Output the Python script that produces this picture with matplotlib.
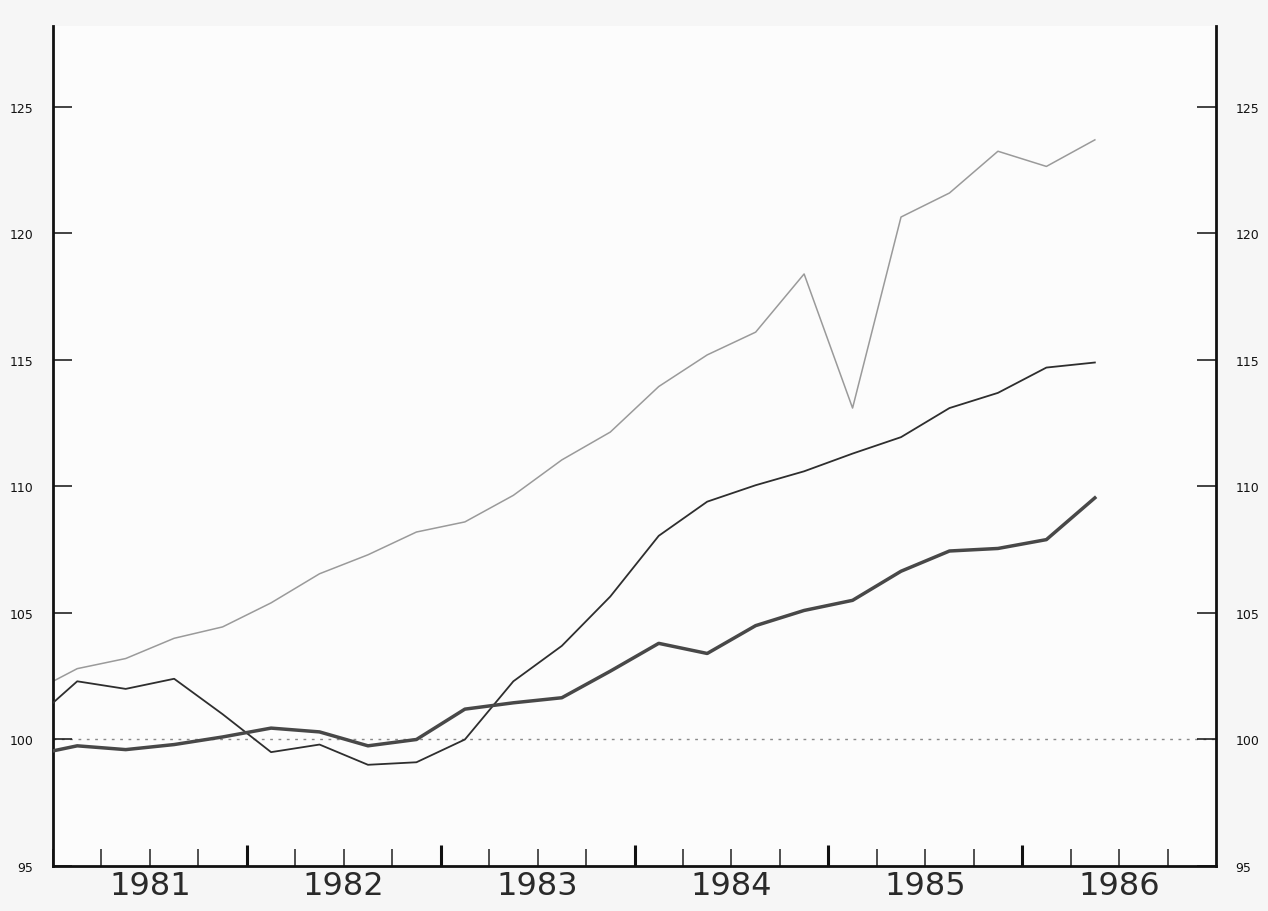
# Index chart 1981-1986, three quarterly series against a base of 100

import numpy as np
import matplotlib.pyplot as plt
from matplotlib.transforms import blended_transform_factory

# quarterly data, 1980Q4 .. 1986Q2 (plotted at quarter midpoints)
years = [1980] + [y for y in range(1981, 1986) for _ in range(4)] + [1986, 1986]
quarters = [4] + [1, 2, 3, 4] * 5 + [1, 2]

series_light = [101.8,
                102.8, 103.2, 104.0, 104.45,
                105.4, 106.55, 107.3, 108.2,
                108.6, 109.65, 111.05, 112.15,
                113.95, 115.2, 116.1, 118.4,
                113.1, 120.65, 121.6, 123.25,
                122.65, 123.7]

series_dark = [100.6,
               102.3, 102.0, 102.4, 101.0,
               99.5, 99.8, 99.0, 99.1,
               100.0, 102.3, 103.7, 105.65,
               108.05, 109.4, 110.05, 110.6,
               111.3, 111.95, 113.1, 113.7,
               114.7, 114.9]

series_thick = [99.35,
                99.75, 99.6, 99.8, 100.1,
                100.45, 100.3, 99.75, 100.0,
                101.2, 101.45, 101.65, 102.7,
                103.8, 103.4, 104.5, 105.1,
                105.5, 106.65, 107.45, 107.55,
                107.9, 109.55]

year_labels = ['1981', '1982', '1983', '1984', '1985', '1986']
y_ticks = [95, 100, 105, 110, 115, 120, 125]

x = np.array(years) + (np.array(quarters) - 0.5) / 4.0

fig = plt.figure(figsize=(12.68, 9.12), dpi=100, facecolor='#f6f6f6')
ax = fig.add_axes([53 / 1268, 1 - 867 / 912, (1216 - 53) / 1268, (867 - 27) / 912])
ax.set_facecolor('#fcfcfc')

ax.axhline(100, color='#8a8a8a', linestyle=(0, (2, 4)), linewidth=1.0, zorder=1)

ax.plot(x, series_light, color='#9a9a9a', linewidth=1.1, zorder=2)
ax.plot(x, series_dark, color='#2e2e2e', linewidth=1.3, zorder=3)
ax.plot(x, series_thick, color='#484848', linewidth=2.5, zorder=4)

ax.set_xlim(1981, 1987)
ax.set_ylim(95, 128.2)

# spines
ax.spines['top'].set_visible(False)
for side in ['left', 'right', 'bottom']:
    ax.spines[side].set_linewidth(2.0)
    ax.spines[side].set_color('#111111')

# y ticks on both sides, pointing in
ax.set_yticks(y_ticks)
ax.set_yticklabels([str(v) for v in y_ticks])
ax.tick_params(axis='y', which='both', left=True, right=True, labelleft=True,
               labelright=True, direction='in', length=14, width=1.1,
               labelsize=9, colors='#111111')
ax.tick_params(axis='y', which='both', pad=14)

# x ticks: quarters (minor) and years (major), pointing up
ax.set_xticks(range(1982, 1987))
ax.set_xticklabels([])
ax.set_xticks(np.arange(1981, 1987, 0.25), minor=True)
ax.tick_params(axis='x', which='major', direction='in', length=15, width=2.2,
               color='#111111')
ax.tick_params(axis='x', which='minor', direction='in', length=12, width=1.1,
               color='#222222')

# year labels centred under each year
trans = blended_transform_factory(ax.transData, ax.transAxes)
for i, lab in enumerate(year_labels):
    ax.text(1981.5 + i, -0.023, lab, transform=trans, ha='center', va='center',
            fontsize=23, color='#2a2a2a')

fig.savefig('out.png', dpi=100, facecolor=fig.get_facecolor())
